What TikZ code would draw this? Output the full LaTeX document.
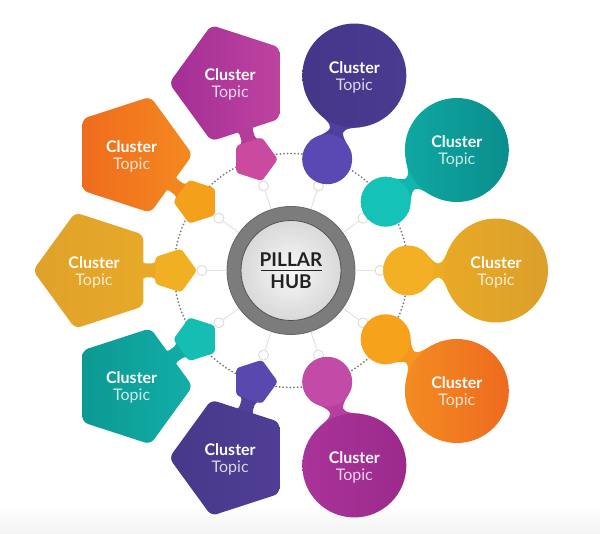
\documentclass[tikz,border=0pt]{standalone}
\usepackage{fontspec}
\setmainfont{Lato}
\usetikzlibrary{shapes.geometric}
% yellow circle
\definecolor{ysm}{HTML}{F3B024}\definecolor{yl}{HTML}{E9A926}\definecolor{yr}{HTML}{DBA02C}
% teal circle
\definecolor{tsm}{HTML}{15C2B7}\definecolor{tl}{HTML}{0FA8A2}\definecolor{tr}{HTML}{0A8E8C}
% purple circle
\definecolor{psm}{HTML}{5A49B2}\definecolor{pl}{HTML}{45368A}\definecolor{pr}{HTML}{4B3B90}
% orange circle
\definecolor{osm}{HTML}{F6A21B}\definecolor{ol}{HTML}{F38C22}\definecolor{or}{HTML}{EE6A1F}
% magenta circle
\definecolor{msm}{HTML}{C14BA6}\definecolor{ml}{HTML}{AA3399}\definecolor{mr}{HTML}{9B2A8C}
% magenta pentagon
\definecolor{mpsm}{HTML}{C94A9E}\definecolor{mpl}{HTML}{A32E95}\definecolor{mpr}{HTML}{BE43A0}
% orange pentagon
\definecolor{opsm}{HTML}{F5A01B}\definecolor{opl}{HTML}{EF6C1E}\definecolor{opr}{HTML}{F4891F}
% yellow pentagon
\definecolor{ypsm}{HTML}{F1B023}\definecolor{ypl}{HTML}{E0A12A}\definecolor{ypr}{HTML}{E7A928}
% teal pentagon
\definecolor{tpsm}{HTML}{16BDB3}\definecolor{tpl}{HTML}{0C9993}\definecolor{tpr}{HTML}{12AEA7}
% purple pentagon
\definecolor{ppsm}{HTML}{5949AE}\definecolor{ppl}{HTML}{48388A}\definecolor{ppr}{HTML}{4F3E94}
\definecolor{hubring}{HTML}{7C7C7C}
\definecolor{hubedge}{HTML}{666666}
\definecolor{hubtext}{HTML}{222222}
\definecolor{orbit}{HTML}{7A7A7A}
\begin{document}
\begin{tikzpicture}[x=1pt,y=1pt,
  smallc/.style={circle, inner sep=0pt, minimum size=50pt},
  bigc/.style={circle, inner sep=0pt, minimum size=104pt},
  smallp/.style={regular polygon, regular polygon sides=5, inner sep=0pt, minimum size=46pt, rounded corners=3pt},
  bigp/.style={regular polygon, regular polygon sides=5, inner sep=0pt, minimum size=122pt, rounded corners=6pt},
  ctxt/.style={text=white, font=\fontsize{16}{17}\selectfont\bfseries, inner sep=0pt, anchor=base},
  ttxt/.style={text=white, text opacity=0.8, font=\fontsize{16}{17}\selectfont, inner sep=0pt, anchor=base},
  spoke/.style={draw=gray!22, line width=1pt},
  ringc/.style={circle, draw=gray!28, fill=white, line width=0.9pt, inner sep=0pt, minimum size=10pt},
  hubtxt/.style={text=hubtext, font=\fontsize{19}{20}\selectfont\bfseries, inner sep=0pt, anchor=base},
]
% canvas
\useasboundingbox (-291,-263.5) rectangle (309,270.5);
\fill[white] (-291,-263.5) rectangle (309,270.5);
\fill[top color=white, bottom color=gray!9] (-291,-234) rectangle (309,-263.5);

% hub
\node[circle, minimum size=128pt, inner sep=0pt, fill=hubring, draw=hubedge, line width=0.8pt] (H) at (0,0) {};

% spokes with small rings
\foreach \i/\a in {1/0,2/36,3/72,4/108,5/144,6/180,7/216,8/252,9/288,10/324}{
  \node[ringc] (R\i) at (\a:89) {};
  \draw[spoke] (H) -- (R\i);
}

% dotted orbit
\draw[orbit, line width=2pt, line cap=round, dash pattern=on 0pt off 3.6pt] (0,0) circle (117);

% inner hub disc and text
\node[circle, minimum size=100pt, inner sep=0pt, inner color=gray!6, outer color=gray!30, draw=hubedge!80!black, line width=0.8pt] (I) at (0,0) {};
\node[hubtxt] (P) at (0,3.7) {PILLAR};
\node[hubtxt] (U) at (0,-18.3) {HUB};
\coordinate (dl) at (-30,-0.3);
\coordinate (dr) at (31,-0.3);
\draw[hubtext, line width=0.7pt] (dl) -- (dr);

% circle clusters
\foreach \i/\a/\sc/\lc/\rc in {1/0/ysm/yl/yr, 2/36/tsm/tl/tr, 3/72/psm/pl/pr, 9/288/msm/ml/mr, 10/324/osm/ol/or}{
  \coordinate (s\i) at (\a:117);
  \coordinate (b\i) at (\a:205);
  \begin{scope}[rotate=\a]
    \fill[\sc!50!\lc] (s\i) -- (129.5,21.7) .. controls (134.7,18.7) and (142,7) .. (147.5,7)
      .. controls (152,7) and (155.4,16.6) .. (157.9,22) -- (b\i) -- (157.9,-22)
      .. controls (155.4,-16.6) and (152,-7) .. (147.5,-7)
      .. controls (142,-7) and (134.7,-18.7) .. (129.5,-21.7) -- cycle;
  \end{scope}
  \node[smallc, fill=\sc] (S\i) at (s\i) {};
  \node[bigc, left color=\lc, right color=\rc] (B\i) at (b\i) {};
  \node[ctxt, yshift=2.3pt] (C\i) at (b\i) {Cluster};
  \node[ttxt, yshift=-14.7pt] (T\i) at (b\i) {Topic};
}

% pentagon clusters
\foreach \i/\a/\sc/\lc/\rc in {4/108/mpsm/mpl/mpr, 5/144/opsm/opl/opr, 6/180/ypsm/ypl/ypr, 7/216/tpsm/tpl/tpr, 8/252/ppsm/ppl/ppr}{
  \coordinate (s\i) at (\a:117);
  \coordinate (b\i) at (\a:197);
  \begin{scope}[rotate=\a]
    \fill[\sc!50!\lc] (s\i) -- (133,11) -- (135,11) .. controls (135,8.8) and (136.8,7) .. (139,7)
      -- (145.3,7) .. controls (147.5,7) and (149.3,8.8) .. (149.3,11) -- (152,11) -- (b\i)
      -- (152,-11) -- (149.3,-11) .. controls (149.3,-8.8) and (147.5,-7) .. (145.3,-7)
      -- (139,-7) .. controls (136.8,-7) and (135,-8.8) .. (135,-11) -- (133,-11) -- cycle;
  \end{scope}
  \node[smallp, fill=\sc, rotate=\a+90] (S\i) at (s\i) {};
  \node[bigp, left color=\lc, right color=\rc, rotate=\a-90] (B\i) at (b\i) {};
  \node[ctxt, yshift=2.3pt] (C\i) at (b\i) {Cluster};
  \node[ttxt, yshift=-14.7pt] (T\i) at (b\i) {Topic};
}
\end{tikzpicture}
\end{document}
